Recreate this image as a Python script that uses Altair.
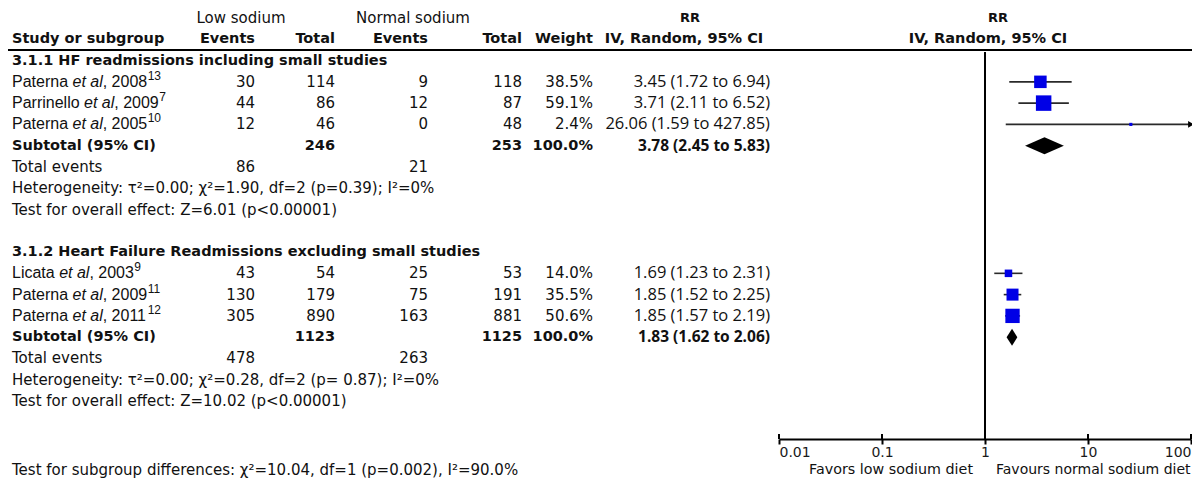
import altair as alt
import pandas as pd

# ---------------- data ----------------
group_titles = ["3.1.1 HF readmissions including small studies",
                "3.1.2 Heart Failure Readmissions excluding small studies"]
study_group = [0, 0, 0, 1, 1, 1]
study_author = ["Paterna", "Parrinello", "Paterna", "Licata", "Paterna", "Paterna"]
study_year = ["2008", "2009", "2005", "2003", "2009", "2011"]
study_ref = ["13", "7", "10", "9", "11", "12"]
low_events = [30, 44, 12, 43, 130, 305]
low_total = [114, 86, 46, 54, 179, 890]
normal_events = [9, 12, 0, 25, 75, 163]
normal_total = [118, 87, 48, 53, 191, 881]
weight = [38.5, 59.1, 2.4, 14.0, 35.5, 50.6]
rr = [3.45, 3.71, 26.06, 1.69, 1.85, 1.85]
rr_lo = [1.72, 2.11, 1.59, 1.23, 1.52, 1.57]
rr_hi = [6.94, 6.52, 427.85, 2.31, 2.25, 2.19]

sub_low_total = [246, 1123]
sub_normal_total = [253, 1125]
sub_weight = [100.0, 100.0]
sub_rr = [3.78, 1.83]
sub_lo = [2.45, 1.62]
sub_hi = [5.83, 2.06]
sub_low_events = [86, 478]
sub_normal_events = [21, 263]
heterogeneity = ["Heterogeneity: τ²=0.00; χ²=1.90, df=2 (p=0.39); I²=0%",
                 "Heterogeneity: τ²=0.00; χ²=0.28, df=2 (p= 0.87); I²=0%"]
overall_effect = ["Test for overall effect: Z=6.01 (p<0.00001)",
                  "Test for overall effect: Z=10.02 (p<0.00001)"]
subgroup_test = "Test for subgroup differences: χ²=10.04, df=1 (p=0.002), I²=90.0%"
header_top = ["Low sodium", "Normal sodium", "RR", "RR"]
header_cols = ["Study or subgroup", "Events", "Total", "Events", "Total", "Weight",
               "IV, Random, 95% CI", "IV, Random, 95% CI"]
axis_ticks = [0.01, 0.1, 1, 10, 100]
favours_left = "Favors low sodium diet"
favours_right = "Favours normal sodium diet"

# ---------------- layout helpers ----------------
INK = "#111111"
W, H = 1184, 431
FONT = "DejaVu Sans"
CI_FONT = "Open Sans"
NAME_FONT = "Liberation Sans"
NAME_SIZE = 16
REG = 15
NUM = 15
BOLD = 14.5
ARIAL = {'P': 667, 'a': 556, 't': 278, 'e': 556, 'r': 333, 'n': 556, ' ': 278,
         'i': 222, 'l': 222, 'o': 556, 'L': 556, 'c': 500, ',': 278}
for d in "0123456789":
    ARIAL[d] = 556


def tw(s, size):
    return sum(ARIAL.get(ch, 556) for ch in s) * size / 1000.0


# row order (index in this list = vertical slot)
rows = ["hdr_top", "hdr_cols"]
for g in range(2):
    if g:
        rows.append("blank")
    rows.append(f"title{g}")
    rows += [f"study{i}" for i in range(len(study_group)) if study_group[i] == g]
    rows += [f"sub{g}", f"tot{g}", f"het{g}", f"test{g}"]
R = {k: i for i, k in enumerate(rows)}

XMAX = axis_ticks[-1]
NAME_X = 4
study_df = pd.DataFrame({
    "row": [R[f"study{i}"] for i in range(6)],
    "author": study_author,
    "etal": ["et al"] * 6,
    "year": [", " + y for y in study_year],
    "ref": study_ref,
    "le": [str(v) for v in low_events],
    "lt": [str(v) for v in low_total],
    "ne": [str(v) for v in normal_events],
    "nt": [str(v) for v in normal_total],
    "w": [f"{v:.1f}%" for v in weight],
    "ci": [f"{a:.2f} ({b:.2f} to {c:.2f})" for a, b, c in zip(rr, rr_lo, rr_hi)],
    "rr": rr, "lo": rr_lo, "hi": rr_hi,
    "hi_clip": [min(v, XMAX) for v in rr_hi],
    "weight": weight,
})
study_df["x_etal"] = [NAME_X + tw(a + " ", NAME_SIZE) for a in study_author]
study_df["x_year"] = study_df["x_etal"] + tw("et al", NAME_SIZE)
study_df["x_ref"] = study_df["x_year"] + [tw(", " + y, NAME_SIZE) + 0.5 for y in study_year]

sub_df = pd.DataFrame({
    "row": [R["sub0"], R["sub1"]],
    "label": ["Subtotal (95% CI)"] * 2,
    "lt": [str(v) for v in sub_low_total],
    "nt": [str(v) for v in sub_normal_total],
    "w": [f"{v:.1f}%" for v in sub_weight],
    "ci": [f"{a:.2f} ({b:.2f} to {c:.2f})" for a, b, c in zip(sub_rr, sub_lo, sub_hi)],
})
tot_df = pd.DataFrame({
    "row": [R["tot0"], R["tot1"]],
    "label": ["Total events"] * 2,
    "le": [str(v) for v in sub_low_events],
    "ne": [str(v) for v in sub_normal_events],
})
title_df = pd.DataFrame({"row": [R["title0"], R["title1"]], "label": group_titles})
notes_df = pd.DataFrame({
    "row": [R["het0"], R["test0"], R["het1"], R["test1"]],
    "label": [heterogeneity[0], overall_effect[0], heterogeneity[1], overall_effect[1]],
})
top_df = pd.DataFrame({"row": [R["hdr_top"]] * 4, "label": header_top})
cols_df = pd.DataFrame({"row": [R["hdr_cols"]] * 8, "label": header_cols})

# diamonds as areas
HALF = 0.4
dia_rows = []
for g in range(2):
    r = R[f"sub{g}"]
    dia_rows += [
        {"g": g, "x": sub_lo[g], "y": r, "y2": r},
        {"g": g, "x": sub_rr[g], "y": r - HALF, "y2": r + HALF},
        {"g": g, "x": sub_hi[g], "y": r, "y2": r},
    ]
dia_df = pd.DataFrame(dia_rows)
arrow_df = study_df[study_df["hi"] > XMAX]
null_df = pd.DataFrame({"x": [1.0]})
tick_df = pd.DataFrame({"t": axis_ticks})

# ---------------- scales ----------------
xs = alt.Scale(type="log", domain=[axis_ticks[0], axis_ticks[-1]], range=[771, 1183], nice=False)
xa = alt.Axis(values=axis_ticks, format="~g", labelFlush=True, grid=False, orient="bottom",
              domainColor="black", domainWidth=2, tickColor="black", tickWidth=2, tickSize=5,
              labelFont=FONT, labelFontSize=14, labelColor="#1a1a1a", labelPadding=1, title=None)
ys = alt.Scale(domain=[0, len(rows) - 1], range=[10, 393], zero=False, nice=False)
Y = alt.Y("row:Q", scale=ys, axis=None)


def X(field):
    return alt.X(f"{field}:Q", scale=xs, axis=xa)


def text(df, field, x, align="right", weight="normal", font=FONT, size=REG, **kw):
    return alt.Chart(df).mark_text(align=align, baseline="middle", font=font, fontSize=size,
                                   fontWeight=weight, color=INK, **kw).encode(
        x=alt.value(x), y=Y, text=f"{field}:N")


layers = []

# header rule and null line
layers.append(alt.Chart(null_df).mark_rule(color="black", strokeWidth=2).encode(
    x=alt.value(0), x2=alt.value(W), y=alt.value(42)))
layers.append(alt.Chart(null_df).mark_rule(color="black", strokeWidth=2).encode(
    x=X("x"), y=alt.value(44), y2=alt.value(H)))
# upper half of the axis ticks
layers.append(alt.Chart(tick_df).mark_rule(color="black", strokeWidth=2).encode(
    x=X("t"), y=alt.value(H - 5), y2=alt.value(H)))

# CIs, arrows, squares, diamonds
layers.append(alt.Chart(study_df).mark_rule(color="#2a2a2a", strokeWidth=1.6).encode(
    x=X("lo"), x2="hi_clip:Q", y=Y))
layers.append(alt.Chart(arrow_df).mark_point(shape="triangle-right", filled=True, color="black",
                                             opacity=1, size=45).encode(x=X("hi_clip"), y=Y))
layers.append(alt.Chart(study_df).mark_square(color="#0000e6", opacity=1).encode(
    x=X("rr"), y=Y,
    size=alt.Size("weight:Q", scale=alt.Scale(type="linear", domain=[0, 100], range=[0, 406]),
                  legend=None)))
layers.append(alt.Chart(dia_df).mark_area(color="black", orient="vertical", opacity=1).encode(
    x=X("x"), y=alt.Y("y:Q", scale=ys, axis=None), y2="y2:Q", detail="g:N"))

# favours labels
layers.append(alt.Chart(null_df).mark_text(align="right", baseline="middle", font=FONT,
                                           fontSize=14.3, color=INK, dx=-12).encode(
    x=X("x"), y=alt.value(462), text=alt.value(favours_left)))
layers.append(alt.Chart(null_df).mark_text(align="left", baseline="middle", font=FONT,
                                           fontSize=14, color=INK, dx=11).encode(
    x=X("x"), y=alt.value(462), text=alt.value(favours_right)))

# header texts
top_x = [233, 405, 682, 990]
for i, xx in enumerate(top_x):
    bold = header_top[i] == "RR"
    layers.append(text(top_df.iloc[[i]], "label", xx, align="center",
                       weight="bold" if bold else "normal", size=13 if bold else REG))
col_x = [(4, "left"), (247, "right"), (327, "right"), (420, "right"), (514, "right"),
         (585, "right"), (676, "center"), (980, "center")]
for i, (xx, al) in enumerate(col_x):
    layers.append(text(cols_df.iloc[[i]], "label", xx, align=al, weight="bold", size=BOLD))

# group titles and notes
layers.append(text(title_df, "label", 4, align="left", weight="bold", size=BOLD))
layers.append(text(notes_df, "label", 4, align="left"))

# study rows
layers.append(text(study_df, "author", NAME_X, align="left", font=NAME_FONT, size=NAME_SIZE))
layers.append(alt.Chart(study_df).mark_text(align="left", baseline="middle", font=NAME_FONT,
                                            fontSize=NAME_SIZE, fontStyle="italic", color=INK).encode(
    x=alt.X("x_etal:Q", scale=None), y=Y, text="etal:N"))
layers.append(alt.Chart(study_df).mark_text(align="left", baseline="middle", font=NAME_FONT,
                                            fontSize=NAME_SIZE, color=INK).encode(
    x=alt.X("x_year:Q", scale=None), y=Y, text="year:N"))
layers.append(alt.Chart(study_df).mark_text(align="left", baseline="middle", font=NAME_FONT,
                                            fontSize=12, color=INK, dy=-6).encode(
    x=alt.X("x_ref:Q", scale=None), y=Y, text="ref:N"))
for f, xx in [("le", 247), ("lt", 327), ("ne", 420), ("nt", 514), ("w", 585)]:
    layers.append(text(study_df, f, xx, size=NUM))
layers.append(text(study_df, "ci", 762, font=CI_FONT, size=16.5))

# subtotal rows (bold)
layers.append(text(sub_df, "label", 4, align="left", weight="bold", size=BOLD))
for f, xx in [("lt", 327), ("nt", 514), ("w", 585)]:
    layers.append(text(sub_df, f, xx, weight="bold", size=BOLD))
layers.append(text(sub_df, "ci", 762, weight="bold", font=CI_FONT, size=15.5))

# total events
layers.append(text(tot_df, "label", 4, align="left"))
layers.append(text(tot_df, "le", 247, size=NUM))
layers.append(text(tot_df, "ne", 420, size=NUM))

# subgroup differences
layers.append(alt.Chart(null_df).mark_text(align="left", baseline="middle", font=FONT,
                                           fontSize=REG, color=INK).encode(
    x=alt.value(4), y=alt.value(462), text=alt.value(subgroup_test)))

chart = alt.layer(*layers).properties(
    width=W, height=H,
    autosize=alt.AutoSizeParams(type="none"),
    padding={"left": 0, "top": 0, "right": 0, "bottom": 40},
).configure_view(stroke=None)

chart.save("out.html", embed_options={"renderer": "svg", "actions": False})
